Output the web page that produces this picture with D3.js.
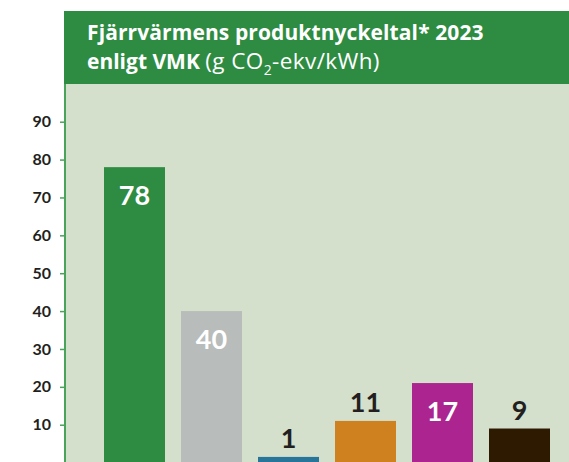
<!DOCTYPE html>
<html>
<head>
<meta charset="utf-8">
<script src="https://cdn.jsdelivr.net/npm/d3@7"></script>
<style>
  body { margin: 0; background: #fff; }
  svg { display: block; font-family: Lato, "Open Sans", sans-serif; }
</style>
</head>
<body>
<svg id="chart"></svg>
<script>
const width = 569;
const height = 462;

// data
const categories = ["A", "B", "C", "D", "E", "F"];
const labels = [78, 40, 1, 11, 17, 9];
const barValues = [78, 40, 1.5, 11, 21, 9]; // heights as drawn
const colors = ["#2e8b42", "#b8bcbb", "#28759a", "#cf801f", "#ab248f", "#2e1a00"];
const insideLabel = [true, true, false, false, true, false];
const yTicks = [10, 20, 30, 40, 50, 60, 70, 80, 90];

const plot = { left: 65, top: 84 };

const x_scale = d3.scaleBand()
  .domain(categories)
  .range([104, 550])
  .paddingInner(16 / 77)
  .paddingOuter(0);

const y_scale = d3.scaleLinear().domain([0, 90]).range([462.6, 121.7]);

const svg = d3.select("#chart").attr("width", width).attr("height", height);

// plot background
svg.append("rect")
  .attr("x", plot.left)
  .attr("y", plot.top)
  .attr("width", width - plot.left)
  .attr("height", height - plot.top)
  .attr("fill", "#d4dfcc");

// header
svg.append("rect")
  .attr("x", 64)
  .attr("y", 11)
  .attr("width", width - 64)
  .attr("height", 73)
  .attr("fill", "#2e8b42");

svg.append("text")
  .attr("x", 87)
  .attr("y", 39.5)
  .attr("fill", "#fff")
  .attr("font-family", "'Open Sans', sans-serif")
  .attr("font-size", 21)
  .attr("font-weight", 700)
  .attr("letter-spacing", 0.1)
  .text("Fjärrvärmens produktnyckeltal* 2023");

const sub = svg.append("text")
  .attr("x", 87)
  .attr("y", 68.5)
  .attr("fill", "#fff")
  .attr("font-family", "'Open Sans', sans-serif")
  .attr("font-size", 21);
sub.append("tspan").attr("font-weight", 700).text("enligt VMK ");
const reg = sub.append("tspan").attr("font-size", 22.5).attr("letter-spacing", 0.4);
reg.append("tspan").text("(g CO");
reg.append("tspan").attr("font-size", 14).attr("dy", 6).text("2");
reg.append("tspan").attr("dy", -6).text("-ekv/kWh)");

// bars
const data = categories.map((c, i) => ({
  cat: c, label: labels[i], value: barValues[i], color: colors[i], inside: insideLabel[i]
}));

svg.selectAll("rect.bar")
  .data(data)
  .join("rect")
  .attr("class", "bar")
  .attr("x", d => x_scale(d.cat))
  .attr("y", d => y_scale(d.value))
  .attr("width", x_scale.bandwidth())
  .attr("height", d => y_scale(0) - y_scale(d.value))
  .attr("fill", d => d.color);

svg.selectAll("text.val")
  .data(data)
  .join("text")
  .attr("class", "val")
  .attr("x", d => x_scale(d.cat) + x_scale.bandwidth() / 2)
  .attr("y", d => d.inside ? y_scale(d.value) + 38 : y_scale(d.value) - 9)
  .attr("text-anchor", "middle")
  .attr("font-size", 27)
  .attr("font-weight", 700)
  .attr("fill", d => d.inside ? "#fff" : "#231f20")
  .text(d => d.label);

// y axis
const yAxis = d3.axisLeft(y_scale).tickValues(yTicks).tickSize(5).tickPadding(9);
const gy = svg.append("g").attr("transform", `translate(${plot.left},0)`).call(yAxis);
gy.select(".domain").remove();
gy.selectAll(".tick line").attr("stroke", "#4aa35a").attr("stroke-width", 1.5);
gy.selectAll(".tick text")
  .attr("font-size", 16)
  .attr("font-weight", 700)
  .attr("fill", "#231f20")
  .attr("font-family", "Lato, sans-serif");

svg.append("line")
  .attr("x1", plot.left).attr("x2", plot.left)
  .attr("y1", plot.top).attr("y2", height)
  .attr("stroke", "#4aa35a")
  .attr("stroke-width", 2);
</script>
</body>
</html>
